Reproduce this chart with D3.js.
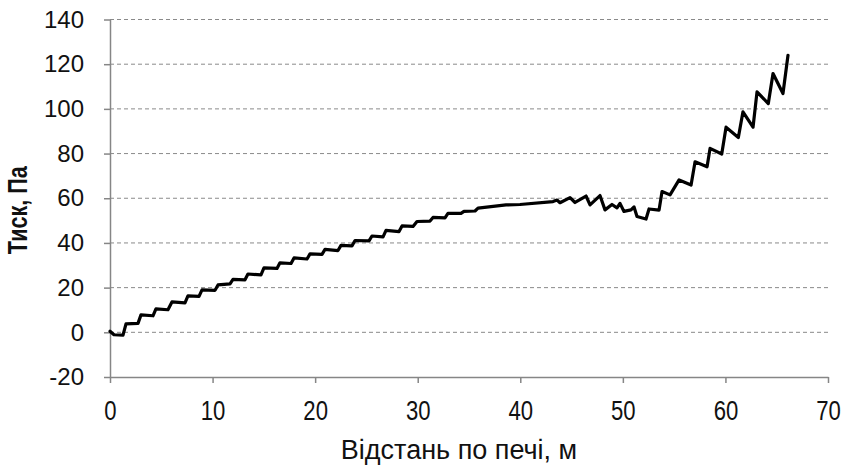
<!DOCTYPE html>
<html>
<head>
<meta charset="utf-8">
<script src="https://cdn.jsdelivr.net/npm/d3@7/dist/d3.min.js"></script>
<style>
    body { margin: 0; background: #fff; }
    #chart { width: 846px; height: 466px; }
</style>
</head>
<body>
<div id="chart"></div>
<script>
// distance along the kiln, m
const distance = [0, 0.39, 1.27, 1.56, 2.73, 3.02, 4.19, 4.48, 5.65, 6.04, 7.31, 7.60, 8.68, 8.97,
    10.24, 10.53, 11.70, 11.99, 13.16, 13.45, 14.72, 15.01, 16.28, 16.57, 17.65, 17.94, 19.21, 19.50,
    20.67, 20.96, 22.23, 22.52, 23.59, 23.89, 25.25, 25.54, 26.62, 26.91, 28.18, 28.47, 29.54, 29.93,
    31.20, 31.49, 32.66, 32.95, 34.22, 34.51, 35.59, 35.88, 38.61, 39.97, 43.19, 43.58, 43.87, 44.85,
    45.34, 46.41, 46.80, 47.77, 48.26, 48.94, 49.43, 49.72, 50.11, 50.79, 51.09, 51.38, 52.26, 52.55,
    53.53, 53.82, 54.60, 55.48, 56.65, 57.04, 58.21, 58.50, 59.64, 60.06, 61.26, 61.71, 62.69, 63.08,
    64.18, 64.64, 65.61, 66.10];

// pressure, Pa
const pressure = [0.5, -1.1, -1.3, 3.8, 4.0, 7.8, 7.4, 10.5, 10.1, 13.6, 13.2, 16.3, 16.1, 19.0,
    18.8, 21.2, 21.7, 23.7, 23.5, 26.1, 25.7, 28.8, 28.6, 31.1, 30.8, 33.3, 32.8, 35.1,
    34.9, 37.1, 36.6, 38.9, 38.7, 41.1, 40.9, 43.1, 42.7, 45.6, 45.1, 47.6, 47.4, 49.6,
    49.8, 51.4, 51.2, 53.2, 53.2, 54.1, 54.3, 55.6, 57.0, 57.2, 58.5, 59.2, 58.0, 60.3,
    58.1, 61.0, 57.0, 61.2, 54.8, 57.2, 55.7, 57.7, 54.1, 54.8, 56.1, 51.8, 50.7, 55.2,
    54.7, 63.0, 61.5, 68.2, 65.9, 76.3, 74.1, 82.3, 79.8, 91.8, 87.2, 98.7, 91.8, 107.6,
    102.4, 115.8, 106.9, 124.0];

const xTicks = [0, 10, 20, 30, 40, 50, 60, 70];
const yTicks = [-20, 0, 20, 40, 60, 80, 100, 120, 140];
const xTitle = "Відстань по печі, м";
const yTitle = "Тиск, Па";

class PressureChart {
    constructor(parentElement) {
        this.parentElement = parentElement;
        this.data = distance.map((d, i) => ({x: d, y: pressure[i]}));
        this.initVis();
    }

    initVis() {
        let vis = this;

        vis.margin = {top: 19.5, right: 18, bottom: 89, left: 110};
        vis.width = 846 - vis.margin.left - vis.margin.right;
        vis.height = 466 - vis.margin.top - vis.margin.bottom;

        vis.svg = d3.select("#" + vis.parentElement).append("svg")
            .attr("width", 846)
            .attr("height", 466)
            .append("g")
            .attr("transform", `translate(${vis.margin.left}, ${vis.margin.top})`);

        vis.x = d3.scaleLinear().domain([0, 70]).range([0, vis.width]);
        vis.y = d3.scaleLinear().domain([-20, 140]).range([vis.height, 0]);

        // dashed gridlines
        vis.svg.append("g")
            .selectAll("line")
            .data(yTicks.filter(d => d > -20))
            .enter().append("line")
            .attr("x1", 0)
            .attr("x2", vis.width)
            .attr("y1", d => vis.y(d))
            .attr("y2", d => vis.y(d))
            .attr("stroke", "#8a8a8a")
            .attr("stroke-width", 1)
            .attr("stroke-dasharray", "4,3");

        vis.yAxis = vis.svg.append("g")
            .call(d3.axisLeft(vis.y).tickValues(yTicks).tickFormat(d => String(d))
                .tickSize(6).tickPadding(20).tickSizeOuter(0));
        vis.yAxis.selectAll("text")
            .style("font-family", "'Liberation Sans', Arial, sans-serif")
            .style("font-size", "24px")
            .attr("fill", "#111");

        vis.xAxis = vis.svg.append("g")
            .attr("transform", `translate(0, ${vis.height})`)
            .call(d3.axisBottom(vis.x).tickValues(xTicks).tickSize(6).tickSizeOuter(0));
        vis.xAxis.selectAll("text")
            .attr("y", 43)
            .attr("dy", 0)
            .attr("transform", "scale(0.82, 1)")
            .style("font-family", "'Liberation Sans', Arial, sans-serif")
            .style("font-size", "27px")
            .attr("fill", "#111");

        vis.svg.selectAll(".domain, .tick line")
            .attr("stroke", "#868686")
            .attr("stroke-width", 1.5);

        vis.svg.append("text")
            .attr("x", vis.width / 2 - 10)
            .attr("y", vis.height + 82)
            .attr("text-anchor", "middle")
            .style("font-family", "'Liberation Sans', Arial, sans-serif")
            .style("font-size", "27px")
            .attr("fill", "#111")
            .text(xTitle);

        // narrow bold title, squeezed along its own direction
        vis.svg.append("text")
            .attr("transform", `translate(${-83}, ${vis.y(60) + 12}) rotate(-90) scale(0.8, 1)`)
            .attr("text-anchor", "middle")
            .style("font-family", "'Liberation Sans', Arial, sans-serif")
            .style("font-size", "27px")
            .style("font-weight", "bold")
            .attr("fill", "#111")
            .text(yTitle);

        vis.updateVis();
    }

    updateVis() {
        let vis = this;

        vis.line = d3.line()
            .x(d => vis.x(d.x))
            .y(d => vis.y(d.y));

        vis.svg.append("path")
            .datum(vis.data)
            .attr("d", vis.line)
            .attr("fill", "none")
            .attr("stroke", "#000")
            .attr("stroke-width", 3.2)
            .attr("stroke-linejoin", "round")
            .attr("stroke-linecap", "round");
    }
}

new PressureChart("chart");
</script>
</body>
</html>
